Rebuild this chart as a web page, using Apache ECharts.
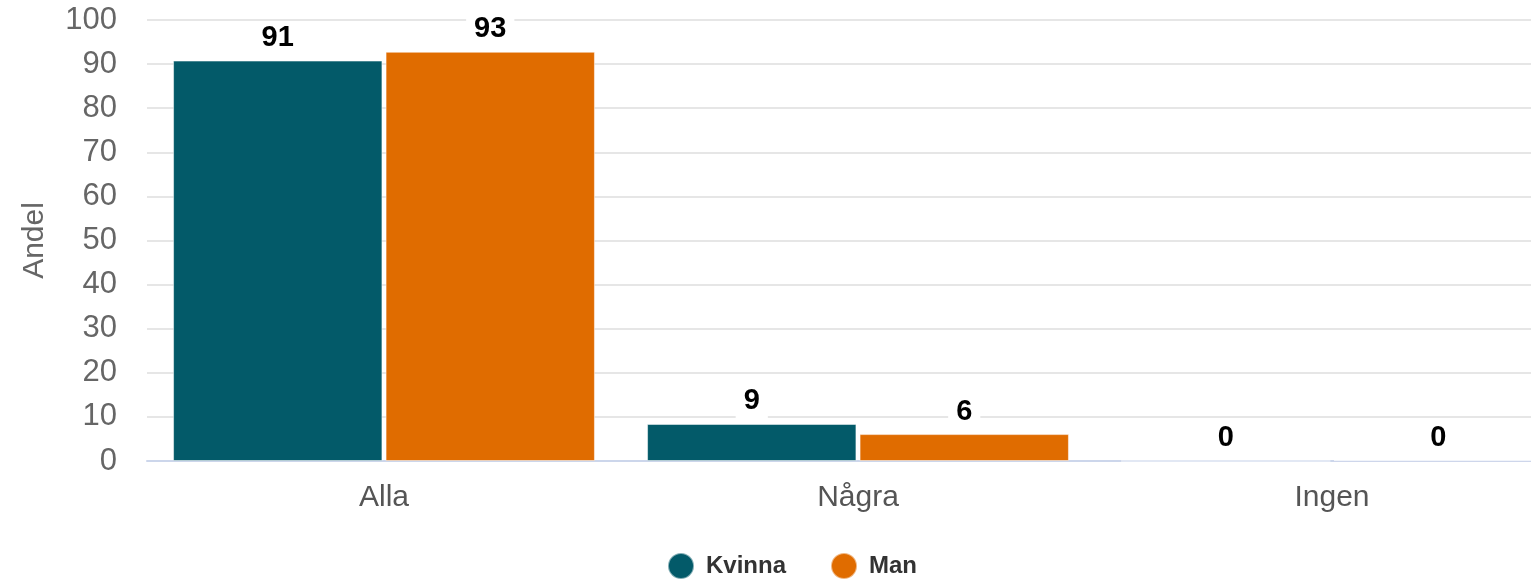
<!DOCTYPE html>
<html><head><meta charset="utf-8">
<script src="https://cdn.jsdelivr.net/npm/echarts@6/dist/echarts.min.js"></script>
<style>html,body{margin:0;padding:0;background:#fff;overflow:hidden;width:1531px;height:581px}#c{width:1569px;height:581px}</style>
</head><body><div id="c"></div>
<script>
const categories = ['Alla', 'Några', 'Ingen'];
const kvinna = [90.8, 8.4, 0];
const man = [92.8, 6.1, 0.2];
const kvinnaLabels = [91, 9, 0];
const manLabels = [93, 6, 0];
const seriesNames = ['Kvinna', 'Man'];

const chart = echarts.init(document.getElementById('c'), null, {renderer: 'canvas'});
const labelStyle = (labels) => ({
  show: true, position: 'top', distance: 6,
  formatter: p => String(labels[p.dataIndex]),
  fontFamily: 'Liberation Sans, Arial, sans-serif', fontSize: 29, fontWeight: 'bold', color: '#000',
  backgroundColor: '#fff', padding: [2, 8, 2, 8]
});
chart.setOption({
  animation: false,
  textStyle: {fontFamily: 'Liberation Sans, Arial, sans-serif'},
  grid: {left: 147, top: 20, right: 0, height: 441, containLabel: false},
  legend: {
    bottom: -4, left: 662, icon: 'circle', itemWidth: 26, itemHeight: 26, itemGap: 44,
    textStyle: {fontSize: 24, fontWeight: 'bold', color: '#333', padding: [0, 0, 0, 7]},
    data: seriesNames
  },
  xAxis: {
    type: 'category', data: categories,
    axisLine: {lineStyle: {color: '#ccd6eb', width: 2}},
    axisTick: {show: false},
    axisLabel: {fontSize: 30, color: '#555', margin: 22}
  },
  yAxis: {
    type: 'value', min: 0, max: 100, interval: 10,
    name: 'Andel', nameLocation: 'middle', nameGap: 97,
    nameTextStyle: {fontSize: 30, color: '#666'},
    axisLabel: {fontSize: 31, color: '#666', margin: 30},
    splitLine: {lineStyle: {color: '#e6e6e6', width: 2}},
    axisLine: {show: false}, axisTick: {show: false}
  },
  series: [
    {name: seriesNames[0], type: 'bar', data: kvinna, barGap: '1.5%', barCategoryGap: '11%',
     itemStyle: {color: '#035a69', borderColor: 'rgba(255,255,255,0.5)', borderWidth: 1},
     label: labelStyle(kvinnaLabels)},
    {name: seriesNames[1], type: 'bar', data: man,
     itemStyle: {color: '#e06c00', borderColor: 'rgba(255,255,255,0.5)', borderWidth: 1},
     label: labelStyle(manLabels)}
  ]
});
</script></body></html>
